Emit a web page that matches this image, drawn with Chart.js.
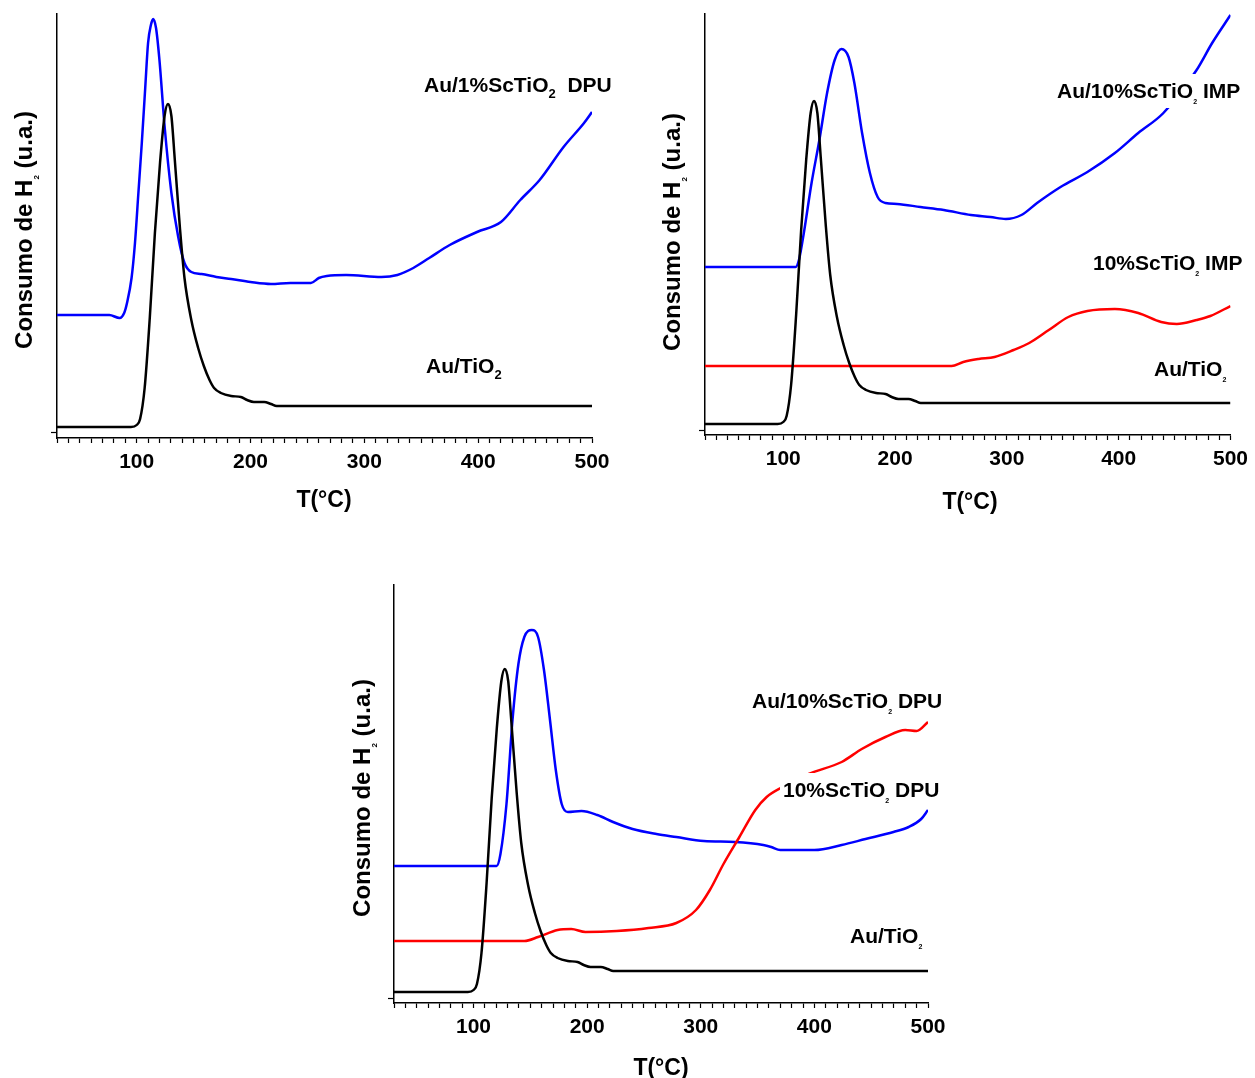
<!DOCTYPE html>
<html>
<head>
<meta charset="utf-8">
<script src="https://cdn.jsdelivr.net/npm/chart.js@4"></script>
<style>
  body { margin: 0; background: #fff; }
  #wrap { position: relative; width: 1255px; height: 1078px; }
  canvas { position: absolute; }
</style>
</head>
<body>
<div id="wrap">
  <canvas id="c1" width="620" height="520" style="left:0;top:0"></canvas>
  <canvas id="c2" width="615" height="520" style="left:640px;top:0"></canvas>
  <canvas id="c3" width="630" height="508" style="left:330px;top:570px"></canvas>
</div>
<script>
// Au/TiO2 reference trace (same sample in every panel)
const tBlack = [30, 95, 100, 103, 107, 111.5, 116, 120.5, 124.5, 127.5, 130.5, 133.5, 138, 142, 148, 154, 159, 164, 168, 174, 183, 191.5, 197, 203, 212, 218, 223, 500];
const vBlack = [11, 11, 13, 19, 50, 120, 205, 275, 322, 334, 322, 278, 210, 160, 118, 90, 72, 58, 50, 45, 42, 41, 38, 36, 36, 34, 32, 32];

// panel 1: Au/1%ScTiO2 DPU
const t1Blue = [30, 76, 85, 89, 91.5, 95.5, 98.5, 101.5, 104.5, 107.5, 110, 112.5, 114.5, 117, 120, 124.5, 130.5, 136.5, 142, 148, 157, 170, 183, 200, 218, 235, 253, 260, 267, 284, 315, 329, 343, 357, 375, 399, 420, 437, 454, 475, 493, 500];
const v1Blue = [123, 123, 120, 125, 135, 160, 195, 245, 295, 350, 395, 413, 419, 410, 378, 312, 245, 201, 175, 166, 164, 161, 159, 156, 154, 155, 155, 160, 162, 163, 161, 163, 170, 180, 193, 206, 216, 238, 258, 291, 315, 326];

// panel 2: Au/10%ScTiO2 IMP and 10%ScTiO2 IMP
const t2Blue = [30, 111, 114, 118.4, 125.3, 132.3, 139.2, 146, 152, 158.4, 163.6, 170.5, 177.5, 184.4, 191.4, 201.8, 222.7, 243.6, 267.9, 285.3, 299, 313, 327, 348, 372, 396.6, 417.5, 440, 469.7, 483.6, 500];
const v2Blue = [168, 168, 175, 202, 252, 295, 342, 375, 386, 378, 352, 302, 262, 238, 232, 231, 228, 225, 220, 218, 216, 220, 232, 248, 263, 282, 302, 322, 365, 392, 420];
const t2Red = [30, 250.5, 261, 274.8, 289, 306, 320, 337.5, 355, 372, 396.6, 417.5, 438, 452, 469.7, 482, 500];
const v2Red = [69, 69, 73, 76, 78, 85, 92, 105, 118, 124, 126, 122, 113, 111, 115, 119, 129];

// panel 3: Au/10%ScTiO2 DPU and 10%ScTiO2 DPU
const t3Blue = [30, 120.3, 123.7, 129, 134.3, 139.5, 144.7, 151.3, 156.8, 162, 167.3, 172.4, 177.6, 183, 195, 209, 222.8, 240, 261, 278.5, 302.7, 330, 355, 362, 370, 400, 424, 445, 469.6, 483, 494, 500];
const v3Blue = [137, 137, 149, 199, 283, 339, 366, 373, 366, 333, 283, 233, 199, 191, 192, 188, 181, 174, 169, 166, 162, 161, 158, 156, 153, 153, 158, 164, 171, 176, 184, 193];
const t3Red = [30, 144.7, 156.8, 174, 186, 198.5, 226, 254, 278.5, 295.8, 308, 320, 334, 348, 358, 372, 395, 424, 441.7, 462.5, 480, 490, 500];
const v3Red = [62, 62, 66, 73, 74, 71, 72, 75, 80, 93, 113, 139, 166, 193, 206, 216, 229, 241, 254, 266, 273, 272, 281];

// texts ("_2" marks a subscript)
const xTitle = 'T(°C)';
const yTitle = 'Consumo de H_2 (u.a.)';
const nameRef = 'Au/TiO_2';
const name1 = 'Au/1%ScTiO_2  DPU';
const name2a = 'Au/10%ScTiO_2 IMP';
const name2b = '10%ScTiO_2 IMP';
const name3a = 'Au/10%ScTiO_2 DPU';
const name3b = '10%ScTiO_2 DPU';

const FONT = "'Liberation Sans', Arial, sans-serif";

function parts(str) {
  return str.split(/_(\d)/).map((t, i) => ({ t: t, sub: i % 2 === 1 }));
}

function richWidth(ctx, str, size, subSize) {
  let w = 0;
  parts(str).forEach(p => {
    ctx.font = 'bold ' + (p.sub ? subSize : size) + 'px ' + FONT;
    w += ctx.measureText(p.t).width;
  });
  return w;
}

function drawRich(ctx, str, x, y, size, subSize, subDy) {
  let cx = x;
  parts(str).forEach(p => {
    ctx.font = 'bold ' + (p.sub ? subSize : size) + 'px ' + FONT;
    ctx.fillText(p.t, cx, y + (p.sub ? subDy : 0));
    cx += ctx.measureText(p.t).width;
  });
}

function textPlugin(cfg) {
  return {
    id: 'texts',
    afterDatasetsDraw(chart) {
      const ctx = chart.ctx;
      ctx.save();
      ctx.textBaseline = 'alphabetic';
      cfg.labels.forEach(l => {
        const w = richWidth(ctx, l.text, 21, l.sub);
        ctx.fillStyle = '#fff';
        ctx.fillRect(l.x - 3, l.y - 24, w + 6, 34);
        ctx.fillStyle = '#000';
        drawRich(ctx, l.text, l.x, l.y, 21, l.sub, l.subDy);
      });
      // x title
      const wx = richWidth(ctx, xTitle, 23, 8);
      drawRich(ctx, xTitle, cfg.xt[0] - wx / 2, cfg.xt[1], 23, 8, 6);
      // y title, rotated
      ctx.translate(cfg.yt[0], cfg.yt[1]);
      ctx.rotate(-Math.PI / 2);
      const wy = richWidth(ctx, yTitle, 24, 8);
      drawRich(ctx, yTitle, -wy / 2, 8, 24, 8, 7);
      ctx.restore();
    }
  };
}

function panel(id, cfg) {
  new Chart(document.getElementById(id), {
    type: 'line',
    data: {
      datasets: cfg.series.map(s => ({
        data: s.t.map((t, i) => ({ x: t, y: s.v[i] })),
        borderColor: s.color,
        borderWidth: 2.5,
        pointRadius: 0,
        fill: false,
        cubicInterpolationMode: 'monotone'
      }))
    },
    options: {
      responsive: false,
      animation: false,
      layout: { autoPadding: false, padding: cfg.pad },
      plugins: { legend: { display: false }, tooltip: { enabled: false } },
      scales: {
        x: {
          type: 'linear',
          min: 30,
          max: 500,
          afterFit: s => { s.height = cfg.xH; },
          border: { color: '#000', width: 1.5 },
          grid: { drawOnChartArea: false, drawTicks: true, tickLength: 5, tickColor: '#000', tickWidth: 1.2 },
          ticks: {
            stepSize: 10,
            autoSkip: false,
            maxRotation: 0,
            padding: 7,
            color: '#000',
            font: { family: FONT, size: 21, weight: 'bold' },
            callback: v => (v % 100 === 0 ? v : '')
          }
        },
        y: {
          min: 0,
          max: cfg.yMax,
          afterFit: s => { s.width = cfg.yW; },
          afterBuildTicks: s => { s.ticks = [{ value: cfg.yTick }]; },
          border: { color: '#000', width: 1.5 },
          grid: { drawOnChartArea: false, drawTicks: true, tickLength: 6, tickColor: '#000', tickWidth: 1.2 },
          ticks: { padding: 0, callback: () => '' }
        }
      }
    },
    plugins: [textPlugin(cfg)]
  });
}

panel('c1', {
  series: [
    { t: tBlack, v: vBlack, color: '#000000' },
    { t: t1Blue, v: v1Blue, color: '#0000ff' }
  ],
  pad: { left: 0, top: 14, right: 28, bottom: 0 },
  yW: 57, xH: 82, yMax: 424, yTick: 6,
  xt: [324, 507], yt: [24, 230],
  labels: [
    { text: name1, x: 424, y: 92, sub: 13, subDy: 6 },
    { text: nameRef, x: 426, y: 373, sub: 13, subDy: 6 }
  ]
});

panel('c2', {
  series: [
    { t: tBlack, v: vBlack, color: '#000000' },
    { t: t2Red, v: v2Red, color: '#ff0000' },
    { t: t2Blue, v: v2Blue, color: '#0000ff' }
  ],
  pad: { left: 0, top: 14, right: 20, bottom: 0 },
  yW: 65, xH: 85, yMax: 421, yTick: 5,
  xt: [330, 509], yt: [32, 232],
  labels: [
    { text: name2a, x: 417, y: 98, sub: 7, subDy: 6 },
    { text: name2b, x: 453, y: 270, sub: 7, subDy: 6 },
    { text: nameRef, x: 514, y: 376, sub: 7, subDy: 6 }
  ]
});

panel('c3', {
  series: [
    { t: tBlack, v: vBlack, color: '#000000' },
    { t: t3Red, v: v3Red, color: '#ff0000' },
    { t: t3Blue, v: v3Blue, color: '#0000ff' }
  ],
  pad: { left: 0, top: 15, right: 32, bottom: 0 },
  yW: 64, xH: 75, yMax: 418, yTick: 5,
  xt: [331, 505], yt: [32, 228],
  labels: [
    { text: name3a, x: 422, y: 138, sub: 7, subDy: 6 },
    { text: name3b, x: 453, y: 227, sub: 7, subDy: 6 },
    { text: nameRef, x: 520, y: 373, sub: 7, subDy: 6 }
  ]
});
</script>
</body>
</html>
